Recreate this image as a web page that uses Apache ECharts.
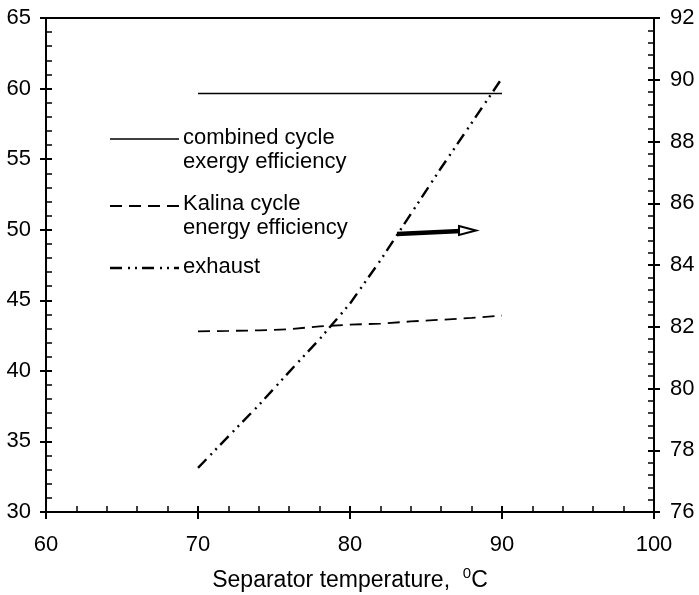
<!DOCTYPE html>
<html>
<head>
<meta charset="utf-8">
<script src="https://cdn.jsdelivr.net/npm/echarts@6/dist/echarts.min.js"></script>
<style>
  html, body { margin: 0; padding: 0; background: #fff; }
  #chart { width: 699px; height: 595px; }
</style>
</head>
<body>
<div id="chart"></div>
<script>
// separator temperature, C
var temps = [70, 72, 74, 76, 78, 80, 82, 84, 86, 88, 90];
// left axis (%)
var combinedExergy = [59.65, 59.65, 59.65, 59.65, 59.65, 59.65, 59.65, 59.65, 59.65, 59.65, 59.65];
var kalinaEnergy = [42.8, 42.83, 42.87, 42.95, 43.15, 43.27, 43.35, 43.5, 43.62, 43.75, 43.92];
// right axis
var exhaust = [77.43, 78.45, 79.46, 80.54, 81.6, 82.75, 84.15, 85.65, 87.15, 88.6, 90.05];

var legendNames = ['combined cycle\nexergy efficiency', 'Kalina cycle\nenergy efficiency', 'exhaust'];

var FONT = '"Liberation Sans", Arial, sans-serif';
var dashKalina = [12, 7];
var dashExhaust = [12, 6, 2, 5, 2, 5];

function pairs(ys) {
  return temps.map(function (t, i) { return [t, ys[i]]; });
}

function tickAxis(base, extra) {
  return Object.assign({}, base, extra);
}

var xBase = { type: 'value', min: 60, max: 100, interval: 10, splitLine: { show: false } };
var yLeftBase = { type: 'value', min: 30, max: 65, interval: 5, splitLine: { show: false } };
var yRightBase = { type: 'value', min: 76, max: 92, interval: 2, splitLine: { show: false } };

var lineStyleAxis = { color: '#000', width: 2 };

var option = {
  backgroundColor: '#fff',
  animation: false,
  grid: { left: 46, right: 45, top: 18, bottom: 83, outerBoundsMode: 'none', containLabel: false },
  xAxis: [
    tickAxis(xBase, {
      position: 'bottom',
      axisLine: { show: true, lineStyle: lineStyleAxis },
      axisTick: { show: true, inside: true, length: 6, lineStyle: { color: '#000', width: 2 } },
      minorTick: { show: true, splitNumber: 5, length: 6, lineStyle: { color: '#000', width: 1.5 } },
      axisLabel: { color: '#000', fontSize: 22, fontFamily: FONT, margin: 22 },
      name: '{a|Separator temperature,  }{s|0}{a|C}',
      nameLocation: 'middle',
      nameGap: 54,
      nameTextStyle: {
        rich: {
          a: { fontSize: 23, fontFamily: FONT, color: '#000', verticalAlign: 'bottom', lineHeight: 26 },
          s: { fontSize: 15, fontFamily: FONT, color: '#000', verticalAlign: 'top', lineHeight: 26 }
        }
      }
    }),
    tickAxis(xBase, {
      position: 'bottom',
      axisLine: { show: false },
      axisTick: { show: true, inside: false, length: 7, lineStyle: { color: '#000', width: 2 } },
      axisLabel: { show: false }
    }),
    tickAxis(xBase, {
      position: 'top',
      axisLine: { show: true, lineStyle: lineStyleAxis },
      axisTick: { show: false },
      axisLabel: { show: false }
    })
  ],
  yAxis: [
    tickAxis(yLeftBase, {
      position: 'left',
      axisLine: { show: true, lineStyle: lineStyleAxis },
      axisTick: { show: true, inside: true, length: 6, lineStyle: { color: '#000', width: 2 } },
      minorTick: { show: true, splitNumber: 5, length: 6, lineStyle: { color: '#000', width: 1.5 } },
      axisLabel: { color: '#000', fontSize: 22, fontFamily: FONT, margin: 15 }
    }),
    tickAxis(yRightBase, {
      position: 'right',
      axisLine: { show: true, lineStyle: lineStyleAxis },
      axisTick: { show: true, inside: true, length: 6, lineStyle: { color: '#000', width: 2 } },
      minorTick: { show: true, splitNumber: 5, length: 6, lineStyle: { color: '#000', width: 1.5 } },
      axisLabel: { color: '#000', fontSize: 22, fontFamily: FONT, margin: 16 }
    }),
    tickAxis(yLeftBase, {
      position: 'left',
      axisLine: { show: false },
      axisTick: { show: true, inside: false, length: 6, lineStyle: { color: '#000', width: 2 } },
      axisLabel: { show: false }
    }),
    tickAxis(yRightBase, {
      position: 'right',
      axisLine: { show: false },
      axisTick: { show: true, inside: false, length: 6, lineStyle: { color: '#000', width: 2 } },
      axisLabel: { show: false }
    })
  ],
  series: [
    {
      name: legendNames[0],
      type: 'line',
      xAxisIndex: 0,
      yAxisIndex: 0,
      showSymbol: false,
      data: pairs(combinedExergy),
      lineStyle: { color: '#000', width: 1.5, type: 'solid' }
    },
    {
      name: legendNames[1],
      type: 'line',
      xAxisIndex: 0,
      yAxisIndex: 0,
      showSymbol: false,
      data: pairs(kalinaEnergy),
      lineStyle: { color: '#000', width: 1.8, type: dashKalina }
    },
    {
      name: legendNames[2],
      type: 'line',
      xAxisIndex: 0,
      yAxisIndex: 1,
      showSymbol: false,
      data: pairs(exhaust),
      lineStyle: { color: '#000', width: 2.4, type: dashExhaust }
    }
  ],
  graphic: [
    // legend
    { type: 'line', shape: { x1: 110, y1: 139, x2: 179, y2: 139 }, style: { stroke: '#000', lineWidth: 1.5 } },
    { type: 'text', left: 183, top: 126, style: { text: legendNames[0], font: '22px ' + FONT, fill: '#000', lineHeight: 24 } },
    { type: 'line', shape: { x1: 110, y1: 206, x2: 179, y2: 206 }, style: { stroke: '#000', lineWidth: 1.8, lineDash: dashKalina } },
    { type: 'text', left: 183, top: 192, style: { text: legendNames[1], font: '22px ' + FONT, fill: '#000', lineHeight: 24 } },
    { type: 'line', shape: { x1: 110, y1: 268, x2: 179, y2: 268 }, style: { stroke: '#000', lineWidth: 2.4, lineDash: dashExhaust } },
    { type: 'text', left: 183, top: 255, style: { text: legendNames[2], font: '22px ' + FONT, fill: '#000', lineHeight: 24 } },
    // arrow pointing at the right axis
    { type: 'line', shape: { x1: 397, y1: 234, x2: 461, y2: 231 }, style: { stroke: '#000', lineWidth: 4.5 } },
    { type: 'polygon', shape: { points: [[459, 226], [476, 230.5], [459, 235]] }, style: { fill: '#fff', stroke: '#000', lineWidth: 2 } }
  ]
};

var chart = echarts.init(document.getElementById('chart'));
chart.setOption(option);
</script>
</body>
</html>
